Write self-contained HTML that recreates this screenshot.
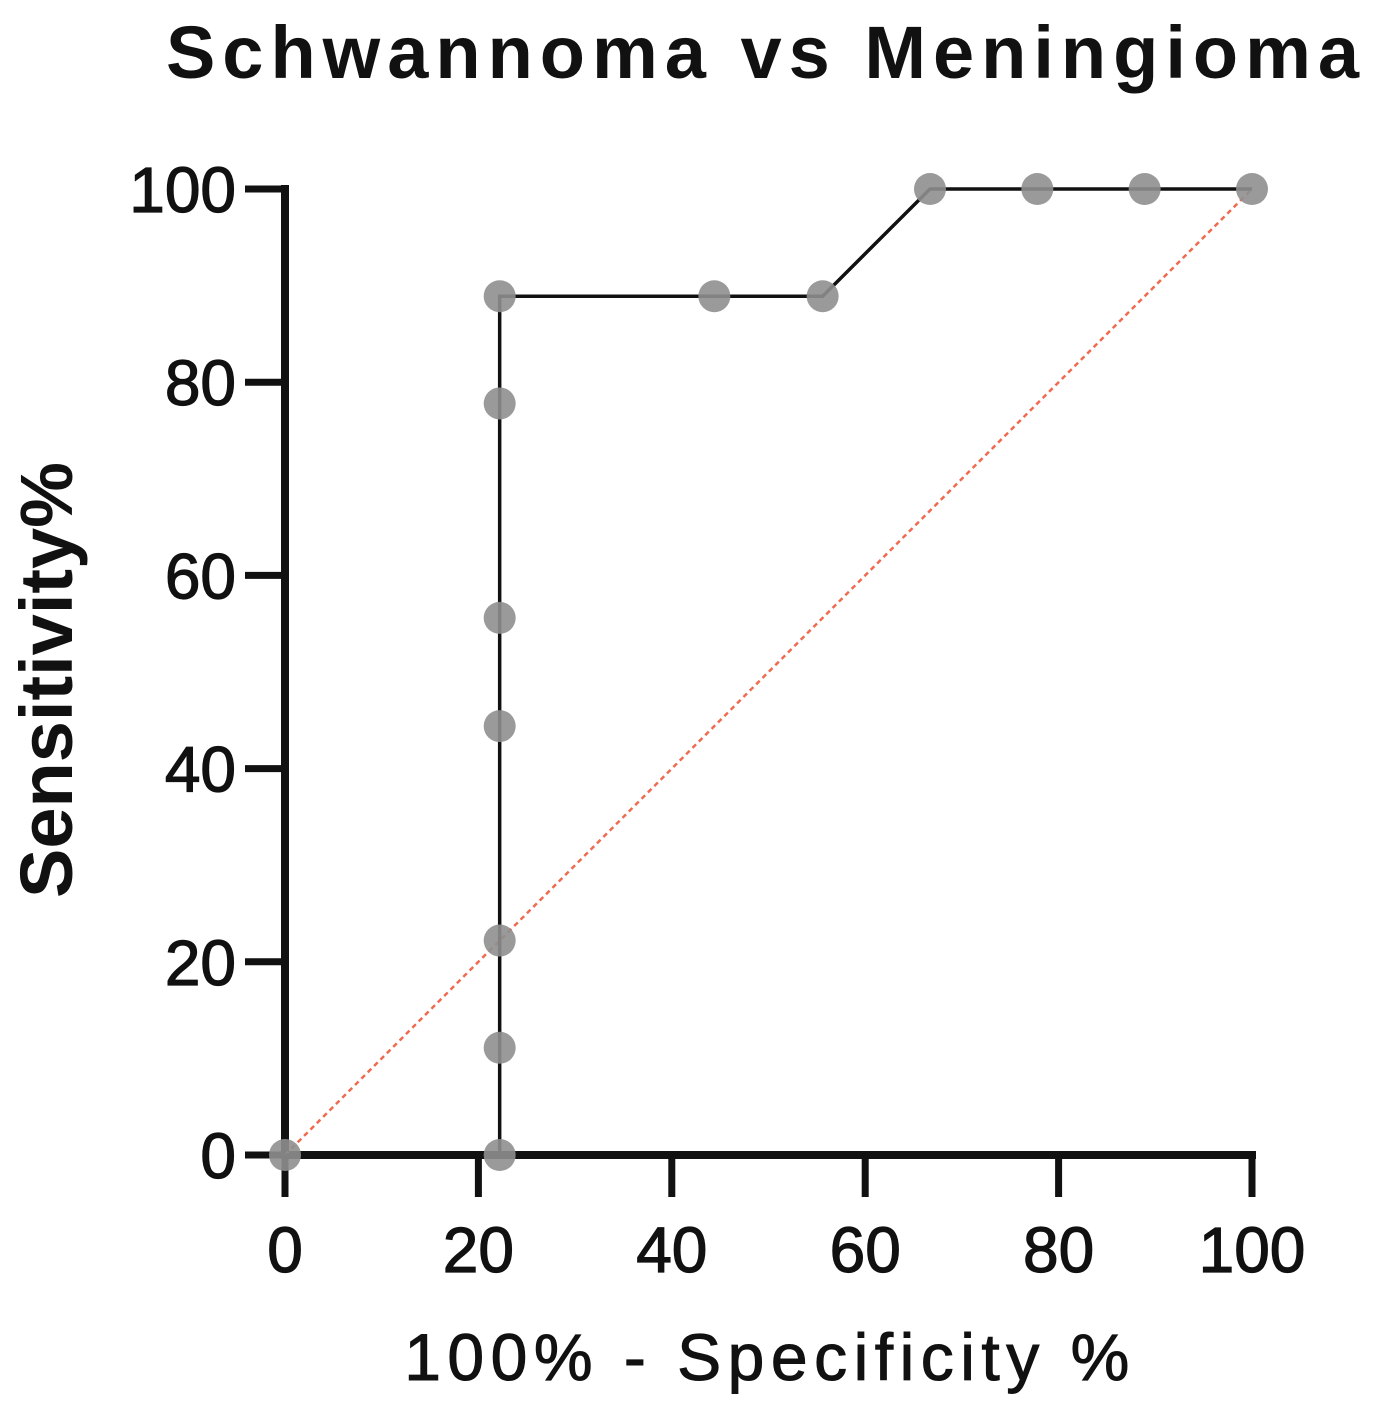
<!DOCTYPE html>
<html><head><meta charset="utf-8"><style>
html,body{margin:0;padding:0;background:#fff;}
svg{display:block;}
text{font-family:"Liberation Sans",sans-serif;fill:#111;}
</style></head><body>
<svg id="chart" width="1400" height="1404" viewBox="0 0 1400 1404">
<text x="766" y="78" text-anchor="middle" font-size="74" font-weight="bold" letter-spacing="7">Schwannoma vs Meningioma</text>
<text x="770" y="1380" text-anchor="middle" font-size="66" letter-spacing="6.5" stroke="#111" stroke-width="1">100% - Specificity %</text>
<text transform="translate(72,680) rotate(-90)" text-anchor="middle" font-size="74" font-weight="bold">Sensitivity%</text>
<g id="axes"></g>
<g id="marks"></g>
</svg>
<script>
const xTicks=[0,20,40,60,80,100];
const yTicks=[0,20,40,60,80,100];
const fpr=[0,22.2,22.2,22.2,22.2,22.2,22.2,22.2,44.4,55.6,66.7,77.8,88.9,100];
const sens=[0,0,11.1,22.2,44.4,55.6,77.8,88.9,88.9,88.9,100,100,100,100];
const X0=285,X1=1252,Y0=1155,Y1=189;
const sx=v=>X0+(v/100)*(X1-X0);
const sy=v=>Y0-(v/100)*(Y0-Y1);
const NS="http://www.w3.org/2000/svg";
const axes=document.getElementById('axes'),marks=document.getElementById('marks');
function mk(tag,attrs,parent){const e=document.createElementNS(NS,tag);for(const k in attrs)e.setAttribute(k,attrs[k]);parent.appendChild(e);return e;}
let e=mk('line',{x1:X0,y1:Y1-4,x2:X0,y2:Y0+4,stroke:'#111','stroke-width':8},axes);


e=mk('line',{x1:X0-4,y1:Y0,x2:X1+4,y2:Y0,stroke:'#111','stroke-width':8},axes);


xTicks.forEach(t=>{
 let l=mk('line',{x1:sx(t),y1:Y0,x2:sx(t),y2:Y0+42,stroke:'#111','stroke-width':7},axes);
 
 
 let tx=mk('text',{x:sx(t),y:1272,'text-anchor':'middle','font-size':64,stroke:'#111','stroke-width':1.2},axes);tx.textContent=t;
 
 
});
yTicks.forEach(t=>{
 let l=mk('line',{x1:X0-40,y1:sy(t),x2:X0,y2:sy(t),stroke:'#111','stroke-width':7},axes);
 
 
 let tx=mk('text',{x:236,y:sy(t)+23,'text-anchor':'end','font-size':64,stroke:'#111','stroke-width':1.2},axes);tx.textContent=t;
 
 
});
e=mk('line',{x1:sx(0),y1:sy(0),x2:sx(100),y2:sy(100),stroke:'#f06a50','stroke-width':2.5,'stroke-dasharray':'5,4'},marks);


e=mk('polyline',{points:fpr.map((v,i)=>sx(v)+','+sy(sens[i])).join(' '),fill:'none',stroke:'#111','stroke-width':3.5},marks);


fpr.forEach((v,i)=>{
 let c=mk('circle',{cx:sx(v),cy:sy(sens[i]),r:16,fill:'#8f8f8f','fill-opacity':0.9},marks);
 
 
});
</script>
</body></html>
